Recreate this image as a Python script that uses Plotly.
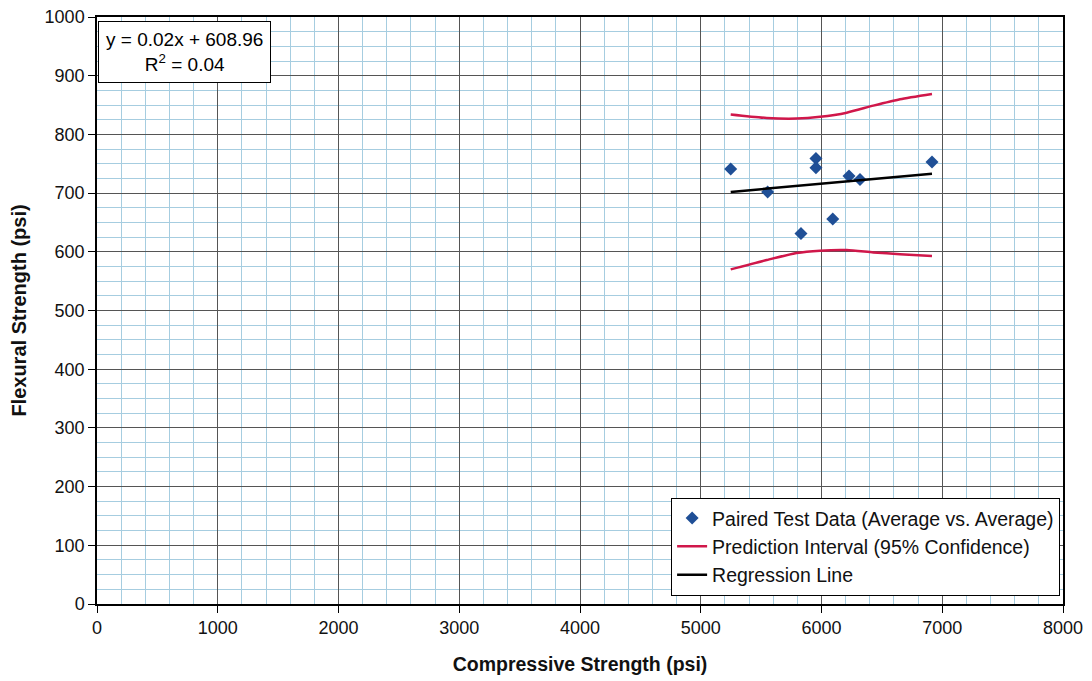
import plotly.graph_objects as go

# paired test data (average vs. average)
comp_psi = [5248, 5554, 5954, 5954, 5830, 6093, 6228, 6319, 6915]
flex_psi = [741, 702, 759, 743, 631, 656, 729, 723, 753]

# regression line end points
reg_x = [5248, 6915]
reg_y = [702, 733]

# 95% prediction interval
pi_x = [5248, 5546, 5794, 5988, 6209, 6429, 6650, 6915]
pi_upper = [834, 828, 827, 830, 837, 849, 860, 869]
pi_lower = [570, 586, 598, 602, 603, 599, 596, 593]

COLOR_PTS = '#1f4f96'
COLOR_PI = '#d0174a'
FONT = "Liberation Sans, Arial, sans-serif"

fig = go.Figure()

fig.add_trace(go.Scatter(
    x=comp_psi, y=flex_psi, mode='markers',
    name='Paired Test Data (Average vs. Average)',
    marker=dict(symbol='diamond', size=10, color=COLOR_PTS)
))
fig.add_trace(go.Scatter(
    x=pi_x, y=pi_upper, mode='lines', line=dict(color=COLOR_PI, width=2.5, shape='spline', smoothing=0.6),
    name='Prediction Interval (95% Confidence)'
))
fig.add_trace(go.Scatter(
    x=pi_x, y=pi_lower, mode='lines', showlegend=False,
    line=dict(color=COLOR_PI, width=2.5, shape='spline', smoothing=0.6)
))
fig.add_trace(go.Scatter(
    x=reg_x, y=reg_y, mode='lines', name='Regression Line',
    line=dict(color='black', width=2.5)
))

fig.add_annotation(
    text="y = 0.02x + 608.96<br>R<sup>2</sup> = 0.04",
    xref="paper", yref="paper", x=0.001, y=0.993,
    xanchor="left", yanchor="top", showarrow=False,
    font=dict(size=19, color="black", family=FONT),
    bgcolor="white", bordercolor="black", borderwidth=1, borderpad=7,
    align="center"
)

axis_common = dict(
    showline=True, linecolor='black', linewidth=1.5, mirror=True,
    ticks='outside', ticklen=7, tickcolor='black',
    gridcolor='#555555', gridwidth=1,
    tickfont=dict(size=18, color='#111'),
    ticklabeloverflow='allow',
    zeroline=False, automargin=False,
)

# page body has an 8px offset, so the figure is sized a bit smaller
fig.update_layout(
    width=1084, height=673,
    paper_bgcolor='white', plot_bgcolor='white',
    font=dict(family=FONT, color='#111'),
    margin=dict(l=89, r=29, t=9, b=77),
    xaxis=dict(
        range=[0, 8000], dtick=1000,
        title=dict(text="<b>Compressive Strength (psi)</b>", font=dict(size=19.5), standoff=20),
        minor=dict(dtick=200, showgrid=True, gridcolor='#a6cde0', gridwidth=1),
        **axis_common
    ),
    yaxis=dict(
        range=[0, 1000], dtick=100,
        title=dict(text="<b>Flexural Strength (psi)</b>", font=dict(size=20), standoff=24),
        minor=dict(dtick=25, showgrid=True, gridcolor='#a6cde0', gridwidth=1),
        **axis_common
    ),
    legend=dict(
        x=0.997, y=0.014, xanchor='right', yanchor='bottom',
        bgcolor='white', bordercolor='black', borderwidth=1,
        font=dict(size=19.5, color='#111'),
        itemwidth=30, tracegroupgap=0
    ),
)

fig.write_html("out.html")
